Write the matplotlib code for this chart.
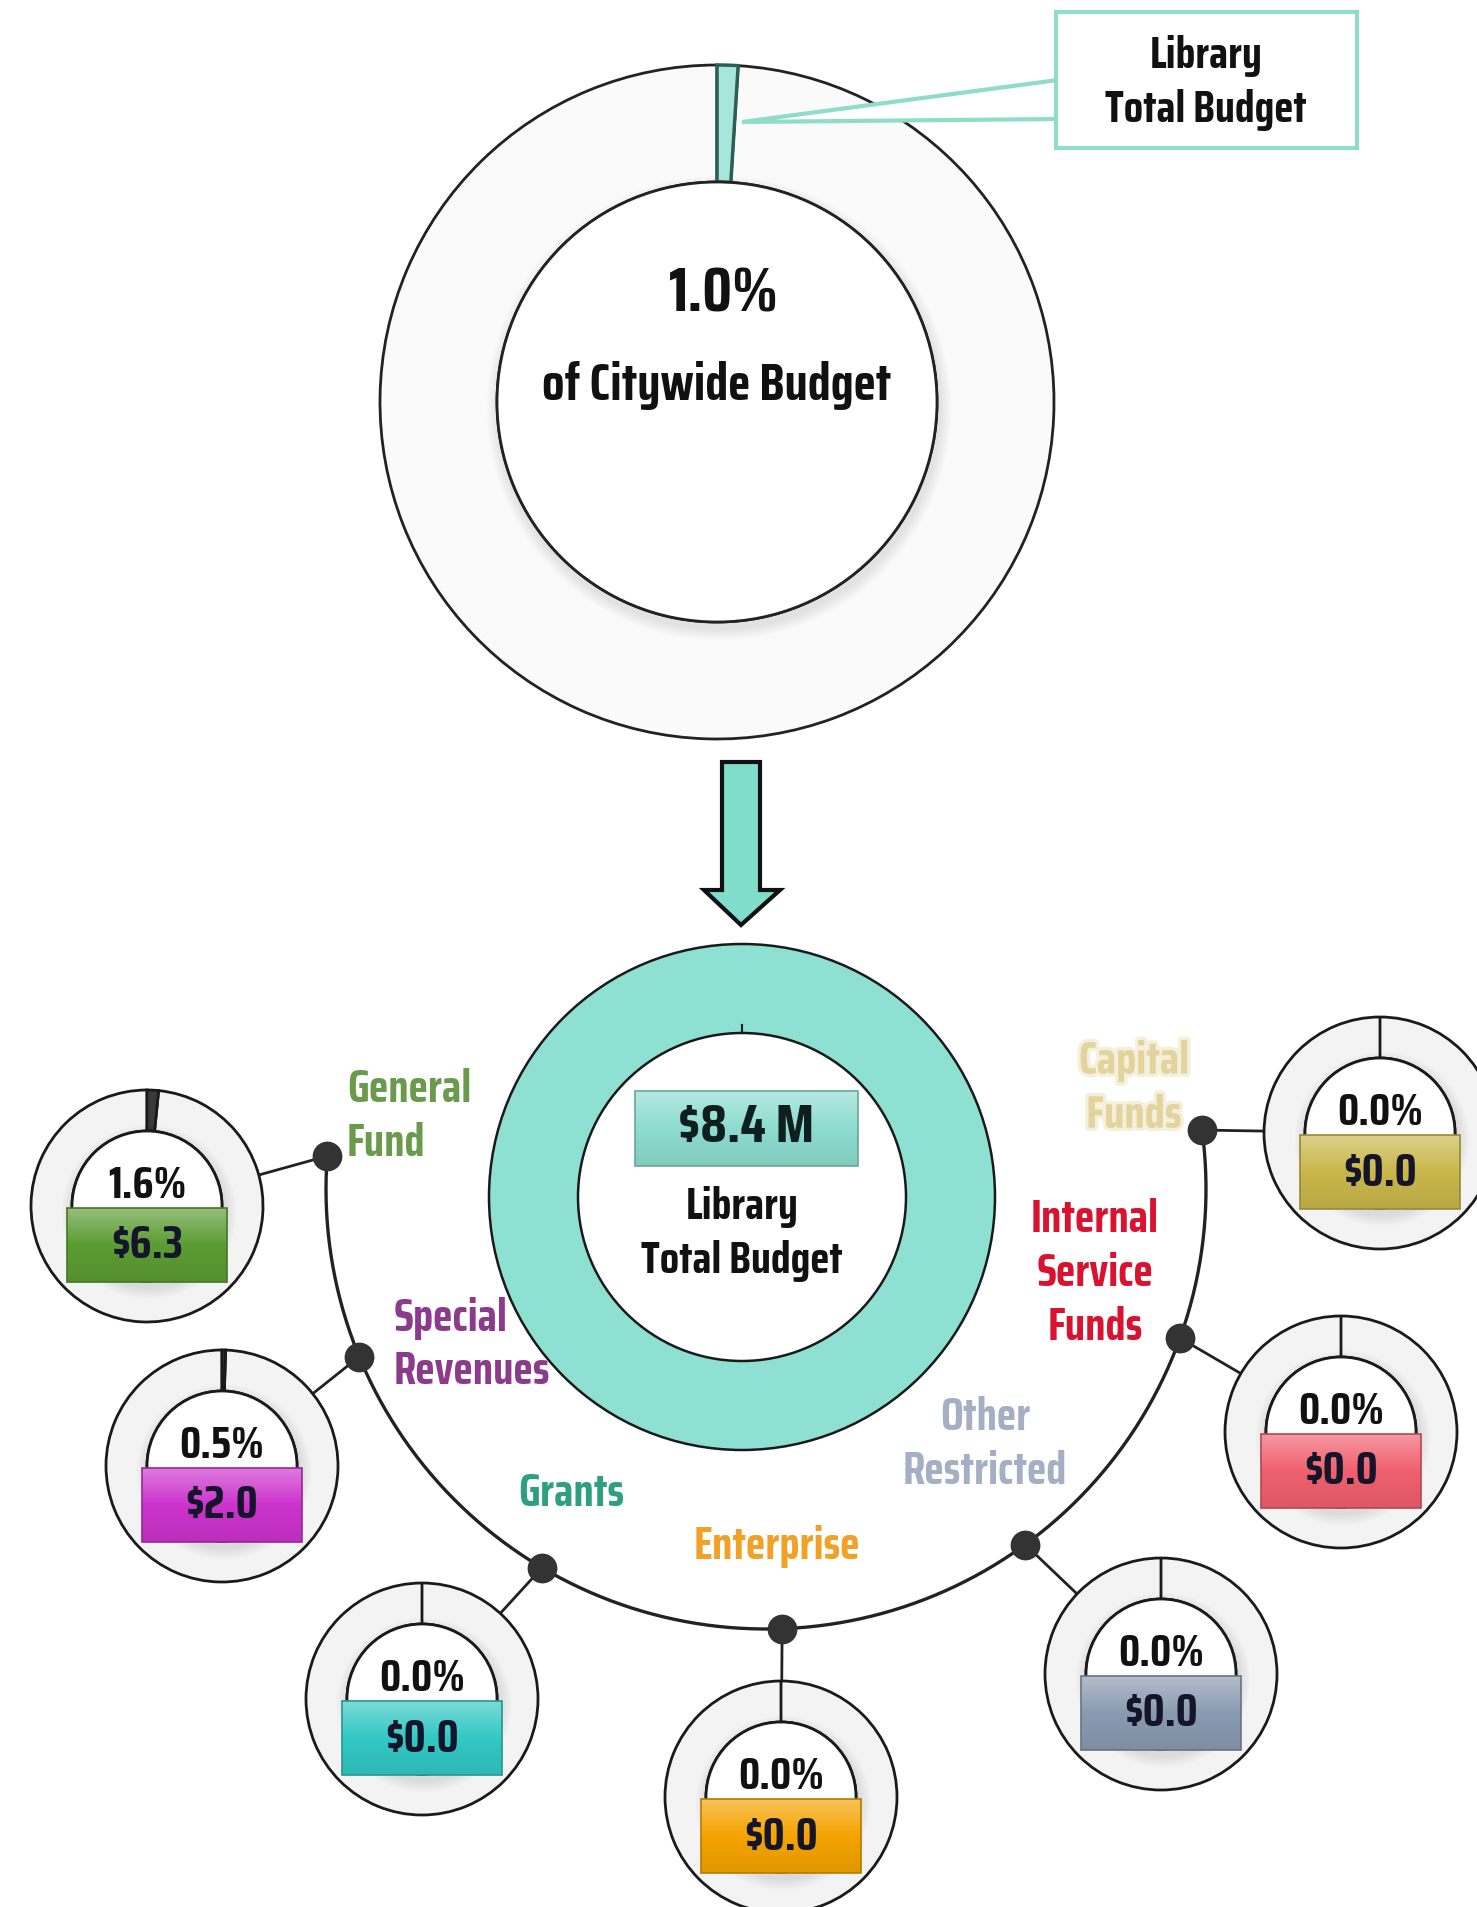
import numpy as np
import matplotlib
matplotlib.use("Agg")
import matplotlib.pyplot as plt
from matplotlib import font_manager
from matplotlib.font_manager import FontProperties
from matplotlib.patches import Circle, Rectangle, Polygon
import matplotlib.patheffects as pe

# ---------------------------------------------------------------
# data
# ---------------------------------------------------------------
city_share = 1.0          # library share of the citywide budget, %
library_total = 8.4       # $M

fund_names = ["General\nFund", "Special\nRevenues", "Grants", "Enterprise",
              "Other\nRestricted", "Internal\nService\nFunds", "Capital\nFunds"]
fund_pct = [1.6, 0.5, 0.0, 0.0, 0.0, 0.0, 0.0]
fund_amount = [6.3, 2.0, 0.0, 0.0, 0.0, 0.0, 0.0]

# ---------------------------------------------------------------
# styling / layout (pixel units, y grows downwards)
# ---------------------------------------------------------------
W, H = 1477, 1907

box_colors = ["#5c9c33", "#cc33cc", "#33c8c4", "#f5a300",
              "#8a9ab0", "#f0606e", "#c9b74a"]
label_colors = ["#6a9b4c", "#8c3a8c", "#2e9f80", "#f0a126",
                "#a4afc4", "#d8122f", "#e2d49c"]

donut_centers = [(147, 1206), (222, 1466), (422, 1699), (781, 1797),
                 (1161, 1674), (1341, 1432), (1380, 1133)]
dot_angles = [184.3, 157.6, 120.6, 87.9, 53.9, 19.8, -7.7]

label_pos = [(347, 1090), (394, 1318), (571, 1493), (777, 1547),
             (985, 1417), (1095, 1220), (1134, 1061)]
label_ha = ["left", "left", "center", "center", "center", "center", "center"]

arc_center = (766, 1189)
arc_radius = 440

top_center, top_R, top_r = (717, 402), 337, 220
bot_center, bot_R, bot_r = (742, 1197), 253, 164
small_R, small_r = 116, 75


def pick_font(names):
    for n in names:
        try:
            font_manager.findfont(FontProperties(family=n, weight="bold"),
                                  fallback_to_default=False)
            return n
        except ValueError:
            pass
    return "DejaVu Sans"


FONT = pick_font(["Saira Condensed", "Rajdhani", "Khand", "BenchNine",
                  "Fjalla One", "Liberation Sans Narrow", "DejaVu Sans"])
plt.rcParams["font.family"] = [FONT, "DejaVu Sans"]
plt.rcParams["font.weight"] = "bold"

fig = plt.figure(figsize=(W / 100, H / 100), dpi=100)
fig.patch.set_facecolor("white")
ax = fig.add_axes([0, 0, 1, 1])
renderer = fig.canvas.get_renderer()


def fit_size(s, width_px):
    # font size (pt) that makes the string span width_px pixels
    fp = FontProperties(family=[FONT, "DejaVu Sans"], weight="bold", size=100)
    w, _, _ = renderer.get_text_width_height_descent(s, fp, ismath=False)
    return 100 * width_px / w


def lighten(c, f):
    rgb = np.array(matplotlib.colors.to_rgb(c))
    return tuple(rgb + (1 - rgb) * f)


def darken(c, f):
    rgb = np.array(matplotlib.colors.to_rgb(c))
    return tuple(rgb * (1 - f))


def gradient_box(ax, x0, y0, w, h, color, z=6):
    top = np.array(lighten(color, 0.35))
    mid = np.array(matplotlib.colors.to_rgb(color))
    bot = np.array(darken(color, 0.08))
    t = np.linspace(0, 1, 64)[:, None]
    col = np.where(t < 0.5, top + (mid - top) * (t / 0.5),
                   mid + (bot - mid) * ((t - 0.5) / 0.5))
    img = np.repeat(col[:, None, :], 2, axis=1)
    ax.imshow(img, extent=(x0, x0 + w, y0 + h, y0), origin="upper",
              aspect="auto", zorder=z, interpolation="bilinear")
    ax.add_patch(Rectangle((x0, y0), w, h, fill=False,
                           ec=darken(color, 0.25), lw=1.2, zorder=z + 0.1))


def ring_shadow(ax, c, r, z):
    for k in range(6):
        ax.add_patch(Circle((c[0] + 2, c[1] + 6), r + 2 + 2 * k,
                            fc="#000000", ec="none", alpha=0.016, zorder=z))


size_big = fit_size("1.0%", 110)
size_sub = fit_size("of Citywide Budget", 350)
size_callout = fit_size("Total Budget", 202)
size_total = fit_size("$8.4 M", 136)
size_label = fit_size("General", 124)
size_pct = fit_size("0.0%", 86)
size_amt = fit_size("$0.0", 74)

# ---------------------------------------------------------------
# top donut: library share of citywide budget
# ---------------------------------------------------------------
wedges, _ = ax.pie([city_share, 100 - city_share], colors=["#a8e6db", "#fafafa"],
                   startangle=270, counterclock=True, center=top_center,
                   radius=top_R, wedgeprops=dict(width=top_R - top_r, lw=2,
                                                 edgecolor="#222222", zorder=2))
wedges[0].set_edgecolor("#2b5f55")
wedges[0].set_linewidth(2.5)
wedges[0].set_zorder(3)
ring_shadow(ax, top_center, top_r, 2.5)
ax.add_patch(Circle(top_center, top_r, fc="white", ec="#222222", lw=2, zorder=3))

ax.text(top_center[0] + 7, 294, f"{city_share:.1f}%", ha="center", va="center",
        fontsize=size_big, color="#111111", zorder=5)
ax.text(top_center[0], 386, "of Citywide Budget", ha="center", va="center",
        fontsize=size_sub, color="#111111", zorder=5)

# callout
ax.add_patch(Polygon([(1058, 80), (742, 122), (1058, 119)], closed=True,
                     fc="white", ec="#8fdcc8", lw=3, zorder=4))
ax.add_patch(Rectangle((1056, 12), 301, 136, fc="white", ec="#8fdcc8",
                       lw=3, zorder=5))
ax.text(1206, 56, "Library", ha="center", va="center", fontsize=size_callout,
        color="#111111", zorder=6)
ax.text(1206, 110, "Total Budget", ha="center", va="center",
        fontsize=size_callout, color="#111111", zorder=6)

# arrow
ax.add_patch(Polygon([(722, 762), (760, 762), (760, 890), (780, 890),
                      (741, 925), (704, 890), (722, 890)], closed=True,
                     fc="#80dccb", ec="#111111", lw=3, joinstyle="miter",
                     zorder=4))

# ---------------------------------------------------------------
# bottom donut: library total
# ---------------------------------------------------------------
ax.pie([library_total], colors=["#8ee0d2"], startangle=270, center=bot_center,
       radius=bot_R, wedgeprops=dict(width=bot_R - bot_r, lw=0, edgecolor="none",
                                     zorder=2))
ax.add_patch(Circle(bot_center, bot_R, fill=False, ec="#1a1a1a", lw=1.8, zorder=3))
ax.add_patch(Circle(bot_center, bot_r, fill=False, ec="#1a1a1a", lw=1.8, zorder=3))
ax.plot([bot_center[0], bot_center[0]],
        [bot_center[1] - bot_r, bot_center[1] - bot_r - 8],
        color="#1a1a1a", lw=1.5, zorder=3)

gradient_box(ax, 635, 1091, 223, 75, "#8ddccf", z=4)
ax.text(bot_center[0] + 4, 1128, f"${library_total:.1f} M", ha="center",
        va="center", fontsize=size_total, color="#0f1f1f", zorder=6)
ax.text(bot_center[0], 1207, "Library", ha="center", va="center",
        fontsize=size_callout, color="#111111", zorder=6)
ax.text(bot_center[0], 1261, "Total Budget", ha="center", va="center",
        fontsize=size_callout, color="#111111", zorder=6)

# ---------------------------------------------------------------
# fund arc with connectors and small donuts
# ---------------------------------------------------------------
th = np.radians(np.linspace(min(dot_angles), max(dot_angles), 400))
ax.plot(arc_center[0] + arc_radius * np.cos(th),
        arc_center[1] + arc_radius * np.sin(th),
        color="#222222", lw=2.4, zorder=2)

for i, name in enumerate(fund_names):
    a = np.radians(dot_angles[i])
    dx_, dy_ = (arc_center[0] + arc_radius * np.cos(a),
                arc_center[1] + arc_radius * np.sin(a))
    cx, cy = donut_centers[i]

    # connector from arc dot to the donut rim
    v = np.array([dx_ - cx, dy_ - cy])
    v = v / np.linalg.norm(v)
    ax.plot([dx_, cx + v[0] * small_R], [dy_, cy + v[1] * small_R],
            color="#222222", lw=2, zorder=2)
    ax.scatter([dx_], [dy_], s=460, color="#333333", zorder=5, linewidths=0)

    # donut
    w_, _ = ax.pie([fund_pct[i], 100 - fund_pct[i]],
                   colors=["#3a3a3a", "#f3f3f3"], startangle=270,
                   counterclock=True, center=(cx, cy), radius=small_R,
                   wedgeprops=dict(width=small_R - small_r, lw=2,
                                   edgecolor="#1a1a1a", zorder=3))
    w_[0].set_zorder(3.5)
    ring_shadow(ax, (cx, cy), small_r, 3.6)
    ax.add_patch(Circle((cx, cy), small_r, fc="white", ec="#1a1a1a",
                        lw=2, zorder=3.7))

    ax.text(cx, cy - 20, f"{fund_pct[i]:.1f}%", ha="center", va="center",
            fontsize=size_pct, color="#111111", zorder=7)
    gradient_box(ax, cx - 80, cy + 2, 160, 74, box_colors[i], z=6)
    ax.text(cx, cy + 40, f"\\${fund_amount[i]:.1f}", ha="center", va="center",
            fontsize=size_amt, color="#14142a", zorder=7)

    # fund label, one text per line
    lx, ly = label_pos[i]
    effects = None
    if i == 6:
        effects = [pe.withStroke(linewidth=5, foreground=label_colors[i], alpha=0.35)]
    for j, line in enumerate(name.split("\n")):
        ax.text(lx, ly + j * 54, line, ha=label_ha[i], va="center",
                fontsize=size_label, color=label_colors[i], zorder=6,
                path_effects=effects)

ax.set_xlim(0, W)
ax.set_ylim(H, 0)
ax.set_aspect("auto")
ax.axis("off")

fig.savefig("out.png", dpi=100, facecolor="white")
